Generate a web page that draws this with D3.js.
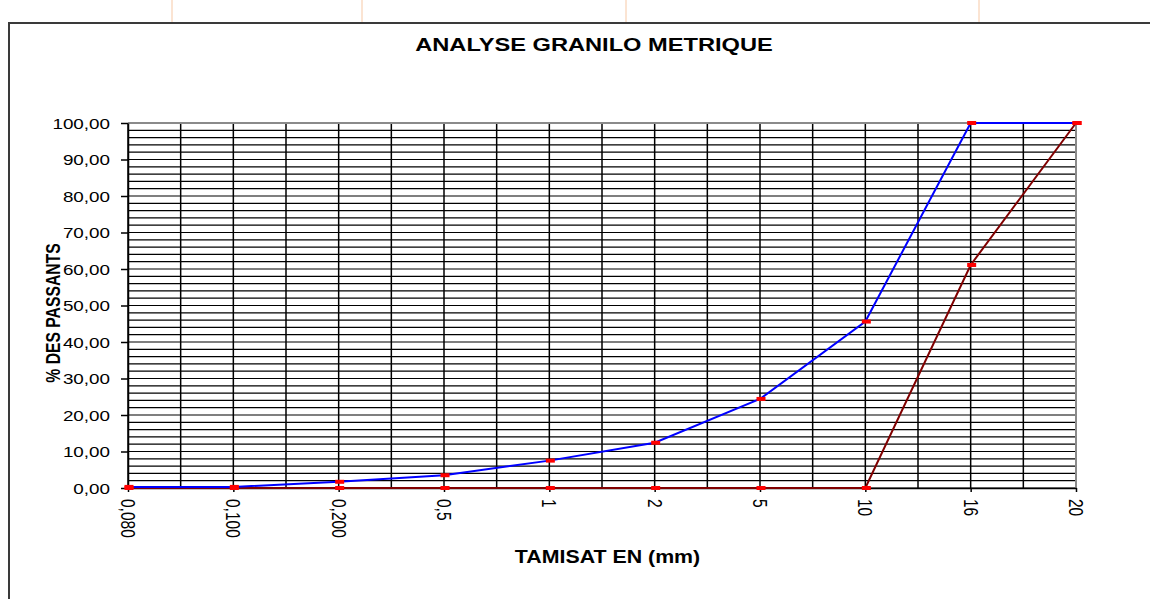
<!DOCTYPE html>
<html>
<head>
<meta charset="utf-8">
<script src="https://cdn.jsdelivr.net/npm/d3@7"></script>
<style>
  html, body { margin: 0; padding: 0; background: #ffffff; }
  svg { display: block; }
  text { font-family: "Liberation Sans", Arial, sans-serif; fill: #000; }
</style>
</head>
<body>
<svg id="chart" width="1150" height="599"></svg>
<script>
// Sieve sizes (mm) and cumulative percentage passing for the two samples
const categories = ["0,080", "0,100", "0,200", "0,5", "1", "2", "5", "10", "16", "20"];
const sandPassing   = [0.3, 0.3, 1.7, 3.5, 7.5, 12.4, 24.4, 45.6, 100, 100];
const gravelPassing = [0, 0, 0, 0, 0, 0, 0, 0, 61.1, 100];
const yTickValues = [0, 10, 20, 30, 40, 50, 60, 70, 80, 90, 100];
const yGridStep = 2;

const titleText = "ANALYSE GRANILO METRIQUE";
const xTitleText = "TAMISAT EN (mm)";
const yTitleText = "% DES PASSANTS";

const svg = d3.select("#chart");
const W = 1150, H = 599;
const plot = { left: 128, right: 1076, top: 123, bottom: 488 };

const frLocale = d3.formatLocale({ decimal: ",", thousands: " ", grouping: [3], currency: ["", " €"] });
const fmt = frLocale.format(".2f");

const x = d3.scalePoint().domain(categories).range([plot.left, plot.right]);
const y = d3.scaleLinear().domain([0, 100]).range([plot.bottom, plot.top]);

// page background and spreadsheet cell lines above the chart frame
svg.append("rect").attr("width", W).attr("height", H).attr("fill", "#fff");
svg.selectAll("line.cell").data([172, 362, 626, 979]).enter().append("line")
  .attr("x1", d => d).attr("x2", d => d).attr("y1", 0).attr("y2", 23)
  .attr("stroke", "#f7c9a6").attr("stroke-width", 1);

// chart area frame (right and bottom edges fall outside the view)
svg.append("rect").attr("x", 9).attr("y", 23).attr("width", 1200).attr("height", 700)
  .attr("fill", "#fff").attr("stroke", "#3a3a3a").attr("stroke-width", 2);

// horizontal grid every 2 %
const gridY = d3.range(0, 100 + 0.001, yGridStep);
svg.append("g").selectAll("line").data(gridY).enter().append("line")
  .attr("x1", plot.left).attr("x2", plot.right)
  .attr("y1", d => y(d)).attr("y2", d => y(d))
  .attr("stroke", "#000").attr("stroke-width", 1.2);

// vertical grid on each sieve and halfway between sieves
const gridX = [];
categories.forEach((c, i) => {
  gridX.push(x(c));
  if (i < categories.length - 1) gridX.push((x(c) + x(categories[i + 1])) / 2);
});
svg.append("g").selectAll("line").data(gridX).enter().append("line")
  .attr("x1", d => d).attr("x2", d => d)
  .attr("y1", plot.top).attr("y2", plot.bottom)
  .attr("stroke", "#000").attr("stroke-width", 1.5);

// plot area border (top and right)
svg.append("path")
  .attr("d", `M${plot.left},${plot.top}H${plot.right}V${plot.bottom}`)
  .attr("fill", "none").attr("stroke", "#8a8a8a").attr("stroke-width", 2);

// y axis
const yAxis = svg.append("g").attr("transform", `translate(${plot.left},0)`)
  .call(d3.axisLeft(y).tickValues(yTickValues).tickSize(7).tickSizeOuter(0).tickFormat(fmt));
yAxis.select(".domain").attr("stroke", "#000").attr("stroke-width", 1.5);
yAxis.selectAll(".tick line").attr("stroke", "#000").attr("stroke-width", 1.5);
yAxis.selectAll(".tick text")
  .attr("x", -18 / 1.3).attr("dy", "0.36em")
  .attr("transform", "scale(1.3,1)")
  .style("font-size", "14.5px").style("font-family", "'Liberation Sans', Arial, sans-serif");

// x axis
const xAxis = svg.append("g").attr("transform", `translate(0,${plot.bottom})`)
  .call(d3.axisBottom(x).tickSize(4).tickSizeOuter(0));
xAxis.select(".domain").attr("stroke", "#000").attr("stroke-width", 1.5);
xAxis.selectAll(".tick line").attr("stroke", "#000").attr("stroke-width", 1.5);
xAxis.selectAll(".tick text")
  .attr("x", 11).attr("y", 0).attr("dy", "0.36em")
  .attr("text-anchor", "start")
  .attr("transform", "scale(1.32,1) rotate(90)")
  .style("font-size", "15.5px").style("font-family", "'Liberation Sans', Arial, sans-serif");

// series lines
const line = d3.line().x((d, i) => x(categories[i])).y(d => y(d));
const series = [
  { values: gravelPassing, color: "#800000" },
  { values: sandPassing, color: "#0000ff" }
];
series.forEach(s => {
  svg.append("path").datum(s.values)
    .attr("d", line).attr("fill", "none")
    .attr("stroke", s.color).attr("stroke-width", 2);
});

// dash markers
series.forEach(s => {
  svg.append("g").selectAll("rect").data(s.values).enter().append("rect")
    .attr("x", (d, i) => x(categories[i]) - 3.5).attr("y", d => y(d) - 2)
    .attr("width", 9).attr("height", 4).attr("fill", "#ff0000");
});

// titles
svg.append("text")
  .attr("transform", "translate(594,51) scale(1.278,1)")
  .attr("text-anchor", "middle")
  .style("font-size", "18.5px").style("font-weight", "bold")
  .text(titleText);

svg.append("text")
  .attr("transform", "translate(607.5,563) scale(1.22,1)")
  .attr("text-anchor", "middle")
  .style("font-size", "17.5px").style("font-weight", "bold")
  .text(xTitleText);

svg.append("text")
  .attr("transform", "translate(53,313) scale(1.25,1) rotate(-90)")
  .attr("text-anchor", "middle").attr("dy", "0.36em")
  .style("font-size", "15.7px").style("font-weight", "bold")
  .text(yTitleText);
</script>
</body>
</html>
